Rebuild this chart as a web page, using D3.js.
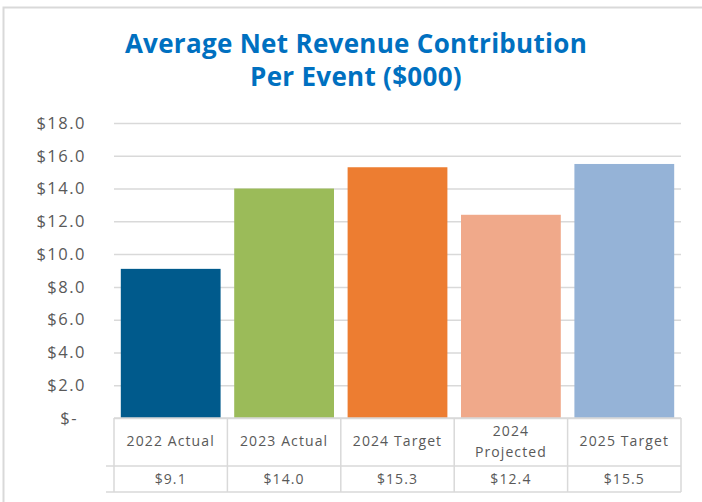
<!DOCTYPE html>
<html>
<head>
<meta charset="utf-8">
<script src="https://cdn.jsdelivr.net/npm/d3@7"></script>
<style>
  body { margin: 0; background: #fff; }
  text { font-family: "Open Sans", sans-serif; }
</style>
</head>
<body>
<svg id="chart" width="702" height="502"></svg>
<script>
var categories = ["2022 Actual", "2023 Actual", "2024 Target", "2024 Projected", "2025 Target"],
    values = [9.1, 14.0, 15.3, 12.4, 15.5],
    valueLabels = ["$9.1", "$14.0", "$15.3", "$12.4", "$15.5"],
    colors = ["#005a8c", "#9bbb59", "#ed7d31", "#f0a98a", "#95b3d7"],
    yTicks = [0, 2, 4, 6, 8, 10, 12, 14, 16, 18],
    titleLines = ["Average Net Revenue Contribution", "Per Event ($000)"];

var svg = d3.select("#chart"),
    plotLeft = 114, plotRight = 681, plotTop = 123, plotBottom = 418,
    headRow = 466, rowEnd = 492,
    grey = "#595959", lineCol = "#d9d9d9";

// outer frame (only top and left edges are in view)
svg.append("path")
  .attr("d", "M3.5 502 V7.5 H702")
  .attr("fill", "none")
  .attr("stroke", lineCol)
  .attr("stroke-width", 2);

svg.selectAll("text.title").data(titleLines).enter()
  .append("text").attr("class", "title")
  .attr("x", 356)
  .attr("y", function (d, i) { return 53 + i * 33; })
  .attr("text-anchor", "middle")
  .style("font-weight", "bold")
  .style("font-size", "26px")
  .style("letter-spacing", "0.3px")
  .style("fill", "#0070c0")
  .text(function (d) { return d; });

var x = d3.scaleBand().domain(categories).range([plotLeft, plotRight]).paddingInner(0.12).paddingOuter(0.06),
    xc = d3.scaleBand().domain(categories).range([plotLeft, plotRight]),
    y = d3.scaleLinear().domain([0, 18]).range([plotBottom, plotTop]);

var yAxis = d3.axisLeft(y).tickValues(yTicks).tickSize(-(plotRight - plotLeft))
  .tickFormat(function (d) { return d === 0 ? "$-" : "$" + d3.format(".1f")(d); });

var ga = svg.append("g").attr("transform", "translate(" + plotLeft + ",0)").call(yAxis);
ga.select(".domain").remove();
ga.selectAll(".tick line").attr("stroke", lineCol).attr("stroke-width", 1.5);
ga.selectAll(".tick text")
  .attr("x", -28)
  .attr("dx", function (d) { return d === 0 ? "-8" : "0"; })
  .style("font-size", "16.5px")
  .style("letter-spacing", "1.5px")
  .style("fill", grey);

svg.selectAll("rect.bar").data(values).enter()
  .append("rect").attr("class", "bar")
  .attr("x", function (d, i) { return x(categories[i]); })
  .attr("width", x.bandwidth())
  .attr("y", function (d) { return y(d); })
  .attr("height", function (d) { return y(0) - y(d); })
  .attr("fill", function (d, i) { return colors[i]; });

// data table under the axis
var table = svg.append("g").attr("stroke", lineCol).attr("stroke-width", 1.5).attr("fill", "none");
table.append("line").attr("x1", plotLeft).attr("x2", plotRight).attr("y1", plotBottom).attr("y2", plotBottom);
table.append("line").attr("x1", 106).attr("x2", plotRight).attr("y1", headRow).attr("y2", headRow);
table.append("line").attr("x1", 106).attr("x2", plotRight).attr("y1", rowEnd).attr("y2", rowEnd);
table.selectAll("line.v").data(categories.concat(["end"])).enter()
  .append("line").attr("class", "v")
  .attr("x1", function (d, i) { return plotLeft + i * xc.bandwidth(); })
  .attr("x2", function (d, i) { return plotLeft + i * xc.bandwidth(); })
  .attr("y1", plotBottom).attr("y2", rowEnd);

var heads = svg.selectAll("text.cat").data(categories).enter()
  .append("text").attr("class", "cat")
  .attr("text-anchor", "middle")
  .style("font-size", "14px")
  .style("letter-spacing", "1.1px")
  .style("fill", grey);

heads.each(function (d) {
  var t = d3.select(this),
      cx = xc(d) + xc.bandwidth() / 2,
      lines = d === "2024 Projected" ? d.split(" ") : [d],
      y0 = 446 - (lines.length - 1) * 10;
  lines.forEach(function (s, i) {
    t.append("tspan").attr("x", cx).attr("y", y0 + i * 21).text(s);
  });
});

svg.selectAll("text.val").data(valueLabels).enter()
  .append("text").attr("class", "val")
  .attr("x", function (d, i) { return xc(categories[i]) + xc.bandwidth() / 2; })
  .attr("y", 484)
  .attr("text-anchor", "middle")
  .style("font-size", "14px")
  .style("letter-spacing", "1.1px")
  .style("fill", grey)
  .text(function (d) { return d; });
</script>
</body>
</html>
